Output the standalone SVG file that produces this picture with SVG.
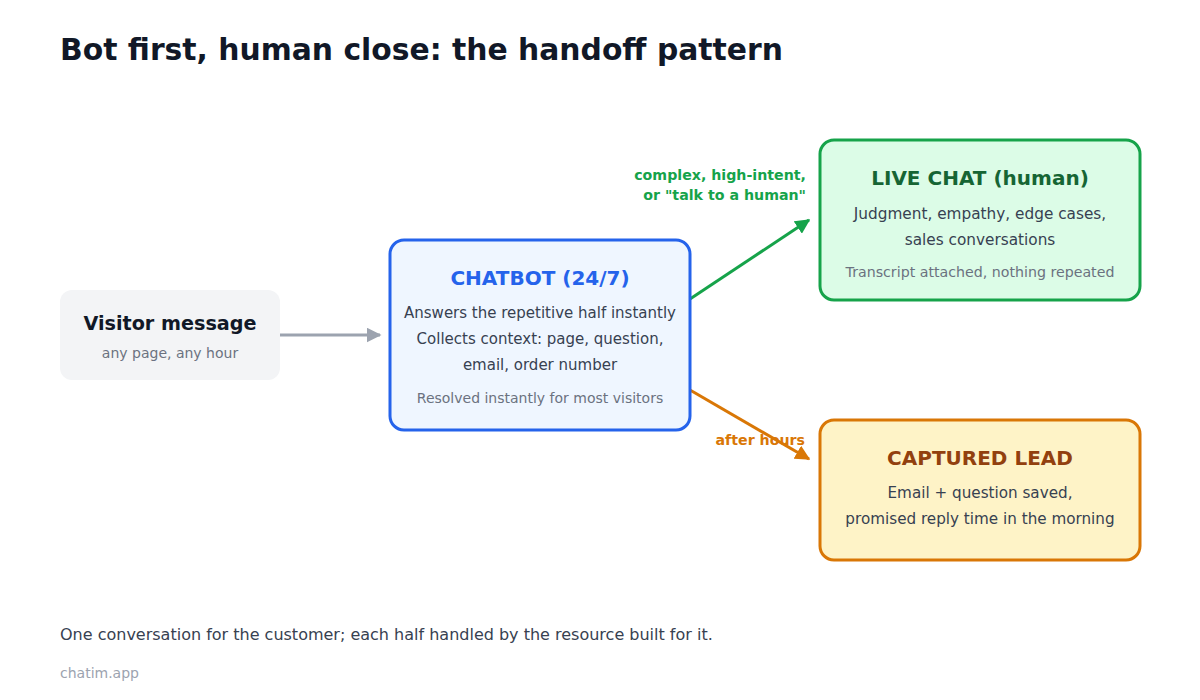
<svg xmlns="http://www.w3.org/2000/svg" width="1200" height="700" viewBox="0 0 1200 700">
<defs>
<style>
text{font-family:"DejaVu Sans","Liberation Sans",sans-serif}
.title{font-size:29.8px;font-weight:bold;fill:#111827}
.nt{font-size:20px;font-weight:bold;text-anchor:middle}
.body{font-size:15px;fill:#374151;text-anchor:middle}
.sub{font-size:14px;fill:#6b7280;text-anchor:middle}
.lbl{font-size:14.2px;font-weight:bold;text-anchor:end}
.conn{fill:none;stroke-width:3}
</style>
<marker id="ag" viewBox="0 0 10 10" refX="9" refY="5" markerWidth="5" markerHeight="5" orient="auto"><path d="M0,0L10,5L0,10z" fill="#9ca3af"/></marker>
<marker id="agr" viewBox="0 0 10 10" refX="9" refY="5" markerWidth="5" markerHeight="5" orient="auto"><path d="M0,0L10,5L0,10z" fill="#16a34a"/></marker>
<marker id="aor" viewBox="0 0 10 10" refX="9" refY="5" markerWidth="5" markerHeight="5" orient="auto"><path d="M0,0L10,5L0,10z" fill="#d97706"/></marker>
</defs>
<rect width="1200" height="700" fill="#ffffff"/>
<text class="title" x="60" y="60">Bot first, human close: the handoff pattern</text>

<g id="connectors">
<line class="conn" x1="280" y1="335" x2="380" y2="335" stroke="#9ca3af" marker-end="url(#ag)"/>
<line class="conn" x1="690" y1="299" x2="809" y2="220" stroke="#16a34a" marker-end="url(#agr)"/>
<line class="conn" x1="690" y1="390" x2="809" y2="459" stroke="#d97706" marker-end="url(#aor)"/>
<text class="lbl" x="806" y="180" fill="#16a34a">complex, high-intent,</text>
<text class="lbl" x="806" y="200" fill="#16a34a">or "talk to a human"</text>
<text class="lbl" x="805" y="445" fill="#d97706">after hours</text>
</g>

<g id="visitor">
<rect x="60" y="290" width="220" height="90" rx="12" fill="#f3f4f6"/>
<text class="nt" x="170" y="330" fill="#111827" style="font-size:19.2px">Visitor message</text>
<text class="sub" x="170" y="358">any page, any hour</text>
</g>

<g id="chatbot">
<rect x="390" y="240" width="300" height="190" rx="14" fill="#eff6ff" stroke="#2563eb" stroke-width="3"/>
<text class="nt" x="540" y="285" fill="#2563eb">CHATBOT (24/7)</text>
<text class="body" x="540" y="318">Answers the repetitive half instantly</text>
<text class="body" x="540" y="344">Collects context: page, question,</text>
<text class="body" x="540" y="370">email, order number</text>
<text class="sub" x="540" y="403">Resolved instantly for most visitors</text>
</g>

<g id="livechat">
<rect x="820" y="140" width="320" height="160" rx="14" fill="#dcfce7" stroke="#16a34a" stroke-width="3"/>
<text class="nt" x="980" y="185" fill="#166534">LIVE CHAT (human)</text>
<text class="body" x="980" y="219" style="font-size:15.3px">Judgment, empathy, edge cases,</text>
<text class="body" x="980" y="245" style="font-size:15.3px">sales conversations</text>
<text class="sub" x="980" y="277" style="font-size:14.2px">Transcript attached, nothing repeated</text>
</g>

<g id="lead">
<rect x="820" y="420" width="320" height="140" rx="14" fill="#fef3c7" stroke="#d97706" stroke-width="3"/>
<text class="nt" x="980" y="465" fill="#92400e">CAPTURED LEAD</text>
<text class="body" x="980" y="498" style="font-size:15.2px">Email + question saved,</text>
<text class="body" x="980" y="524" style="font-size:15.2px">promised reply time in the morning</text>
</g>

<text x="60" y="640" font-size="16" fill="#374151">One conversation for the customer; each half handled by the resource built for it.</text>
<text x="60" y="678" font-size="14" fill="#9ca3af">chatim.app</text>
</svg>
